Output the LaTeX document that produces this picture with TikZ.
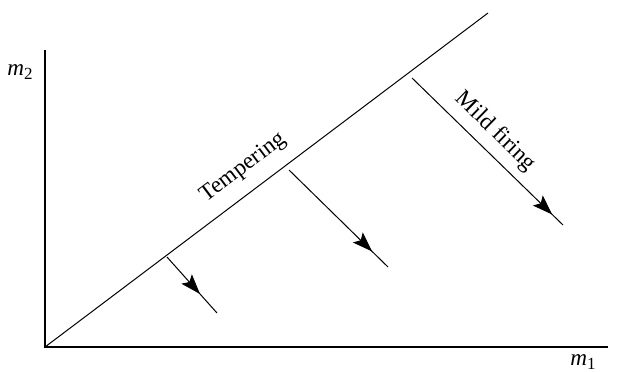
\documentclass[tikz,border=0pt]{standalone}
\usepackage{fontspec}
\setmainfont{Liberation Serif}
\usetikzlibrary{arrows.meta, decorations.markings}

\newcommand{\mvar}[1]{\textit{m}\raisebox{-0.45ex}{\fontsize{8.5}{9}\selectfont #1}}

\begin{document}
\begin{tikzpicture}[
  x=0.5pt, y=0.5pt,
  every node/.style={font=\fontsize{11.6}{13}\selectfont},
  axis/.style={line width=1pt},
  thin line/.style={line width=0.5pt},
  flow/.style={line width=0.5pt,
    decoration={markings, mark=at position #1 with {\arrow{Stealth[length=10pt, width=7pt, inset=2pt]}}},
    postaction={decorate}},
]
  \useasboundingbox (0,0) rectangle (619,371);

  \coordinate (O) at (45,24);
  \coordinate (Ytop) at (45,321);
  \coordinate (Xend) at (608,24);
  \coordinate (Dend) at (488,358);

  \draw[axis] (Ytop) -- (O) -- (Xend);
  \node (m2) at (20,299) {\mvar{2}};
  \node (m1) at (583,9) {\mvar{1}};

  % tempering line
  \draw[thin line] (O) -- node[pos=0.48, sloped, above=3pt] (temp) {Tempering} (Dend);

  % arrows
  \coordinate (a1) at (167,114);
  \coordinate (b1) at (217,58);
  \coordinate (a2) at (289,201);
  \coordinate (b2) at (388,104);
  \coordinate (a3) at (412,293);
  \coordinate (b3) at (563,146);

  \draw[flow=0.66] (a1) -- (b1);
  \draw[flow=0.84] (a2) -- (b2);
  \draw[flow=0.93] (a3) -- node[pos=0.46, sloped, above=1pt] (mild) {Mild firing} (b3);
\end{tikzpicture}
\end{document}
